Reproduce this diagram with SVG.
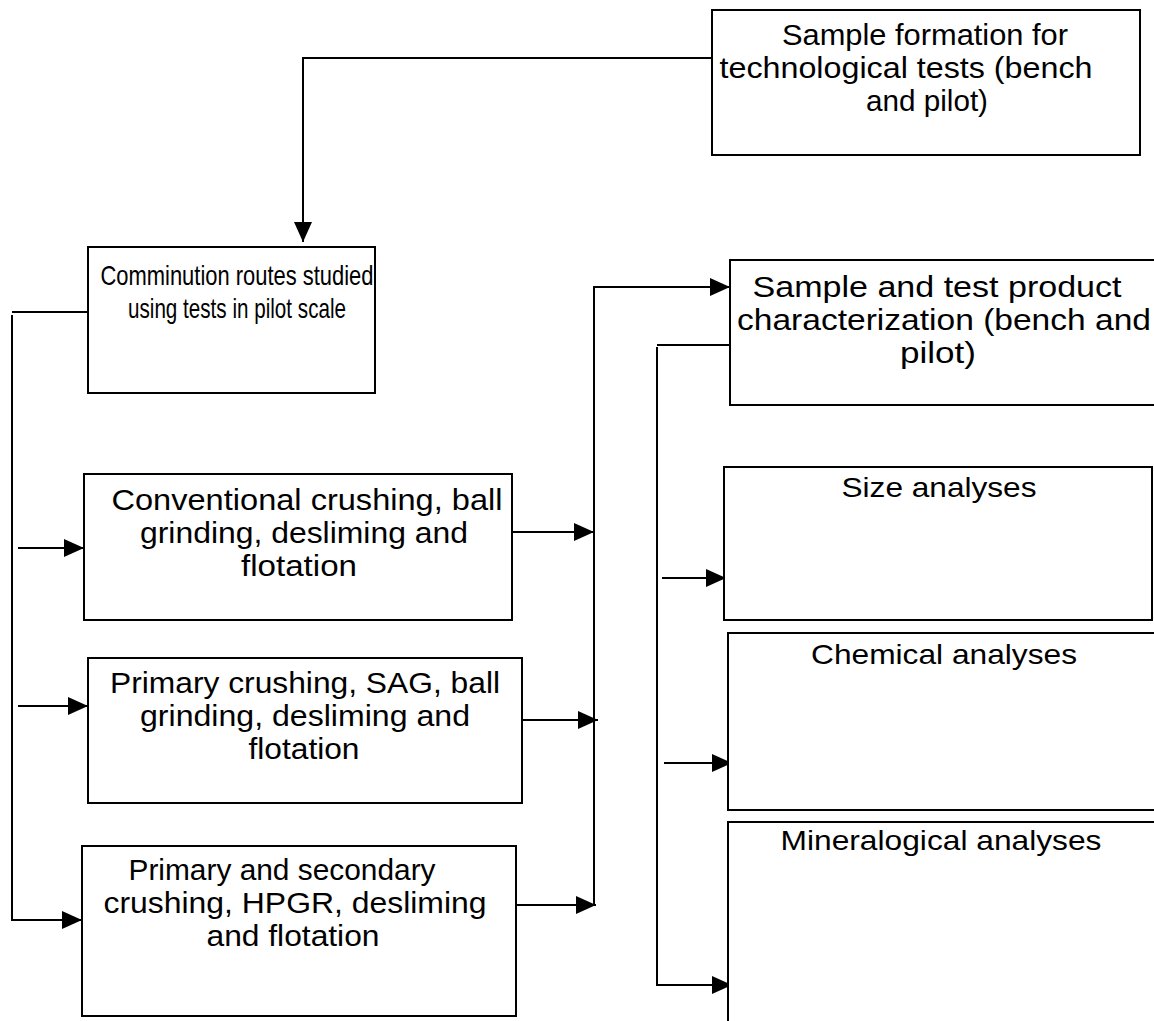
<svg xmlns="http://www.w3.org/2000/svg" width="1154" height="1021" viewBox="0 0 1154 1021">
<defs>
<marker id="ah" markerUnits="userSpaceOnUse" markerWidth="22" markerHeight="18" refX="20" refY="9" orient="auto">
<path d="M0,0 L20,9 L0,18 Z" fill="#000"/>
</marker>
<style>
.box{fill:#fff;stroke:#000;stroke-width:2}
.ln{fill:none;stroke:#000;stroke-width:2}
.ar{fill:none;stroke:#000;stroke-width:2;marker-end:url(#ah)}
text{font-family:"Liberation Sans",Arial,sans-serif;font-size:30px;fill:#000;text-anchor:middle}
.s{font-size:28px}
.c{font-size:28px}
</style>
</defs>
<rect width="1154" height="1021" fill="#fff"/>
<g id="connectors">
<path class="ar" d="M712,58 H303 V242"/>
<path class="ln" d="M88,312 H12"/>
<path class="ar" d="M12,315 V920 H82"/>
<path class="ar" d="M18,548 H84"/>
<path class="ar" d="M18,706 H88"/>
<path class="ar" d="M512,532 H594"/>
<path class="ar" d="M522,720 H598"/>
<path class="ar" d="M516,905 H596"/>
<path class="ar" d="M594,905 V287 H730"/>
<path class="ln" d="M732,345 H657"/>
<path class="ar" d="M657,347 V985 H732"/>
<path class="ar" d="M662,578 H726"/>
<path class="ar" d="M664,763 H732"/>
</g>
<g id="n-sample-formation">
<rect class="box" x="712" y="10" width="428" height="145"/>
<text x="925" y="45" textLength="286" lengthAdjust="spacingAndGlyphs">Sample formation for</text>
<text x="906" y="78" textLength="373" lengthAdjust="spacingAndGlyphs">technological tests (bench</text>
<text x="927" y="111" textLength="122" lengthAdjust="spacingAndGlyphs">and pilot)</text>
</g>
<g id="n-comminution">
<rect class="box" x="88" y="247" width="287" height="146"/>
<text class="c" x="237" y="285" textLength="273" lengthAdjust="spacingAndGlyphs">Comminution routes studied</text>
<text class="c" x="237" y="318" textLength="218" lengthAdjust="spacingAndGlyphs">using tests in pilot scale</text>
</g>
<g id="n-conventional">
<rect class="box" x="84" y="474" width="428" height="146"/>
<text x="307" y="510" textLength="391" lengthAdjust="spacingAndGlyphs">Conventional crushing, ball</text>
<text x="304" y="543" textLength="328" lengthAdjust="spacingAndGlyphs">grinding, desliming and</text>
<text x="299" y="576" textLength="116" lengthAdjust="spacingAndGlyphs">flotation</text>
</g>
<g id="n-sag">
<rect class="box" x="88" y="658" width="434" height="145"/>
<text x="305" y="693" textLength="390" lengthAdjust="spacingAndGlyphs">Primary crushing, SAG, ball</text>
<text x="305" y="726" textLength="330" lengthAdjust="spacingAndGlyphs">grinding, desliming and</text>
<text x="304" y="759" textLength="111" lengthAdjust="spacingAndGlyphs">flotation</text>
</g>
<g id="n-hpgr">
<rect class="box" x="82" y="846" width="434" height="170"/>
<text x="282" y="880" textLength="307" lengthAdjust="spacingAndGlyphs">Primary and secondary</text>
<text x="295" y="913" textLength="383" lengthAdjust="spacingAndGlyphs">crushing, HPGR, desliming</text>
<text x="293" y="946" textLength="173" lengthAdjust="spacingAndGlyphs">and flotation</text>
</g>
<g id="n-characterization">
<path class="box" d="M1156,260 H730 V405 H1156"/>
<text x="937" y="297" textLength="369" lengthAdjust="spacingAndGlyphs">Sample and test product</text>
<text x="944" y="330" textLength="414" lengthAdjust="spacingAndGlyphs">characterization (bench and</text>
<text x="938" y="363" textLength="76" lengthAdjust="spacingAndGlyphs">pilot)</text>
</g>
<g id="n-size">
<rect class="box" x="724" y="467" width="428" height="153"/>
<text class="s" x="939" y="497" textLength="195" lengthAdjust="spacingAndGlyphs">Size analyses</text>
</g>
<g id="n-chemical">
<path class="box" d="M1156,633 H728 V810 H1156"/>
<text class="s" x="944" y="664" textLength="266" lengthAdjust="spacingAndGlyphs">Chemical analyses</text>
</g>
<g id="n-mineralogical">
<path class="box" d="M1156,822 H728 V1022"/>
<text class="s" x="941" y="850" textLength="321" lengthAdjust="spacingAndGlyphs">Mineralogical analyses</text>
</g>
</svg>
